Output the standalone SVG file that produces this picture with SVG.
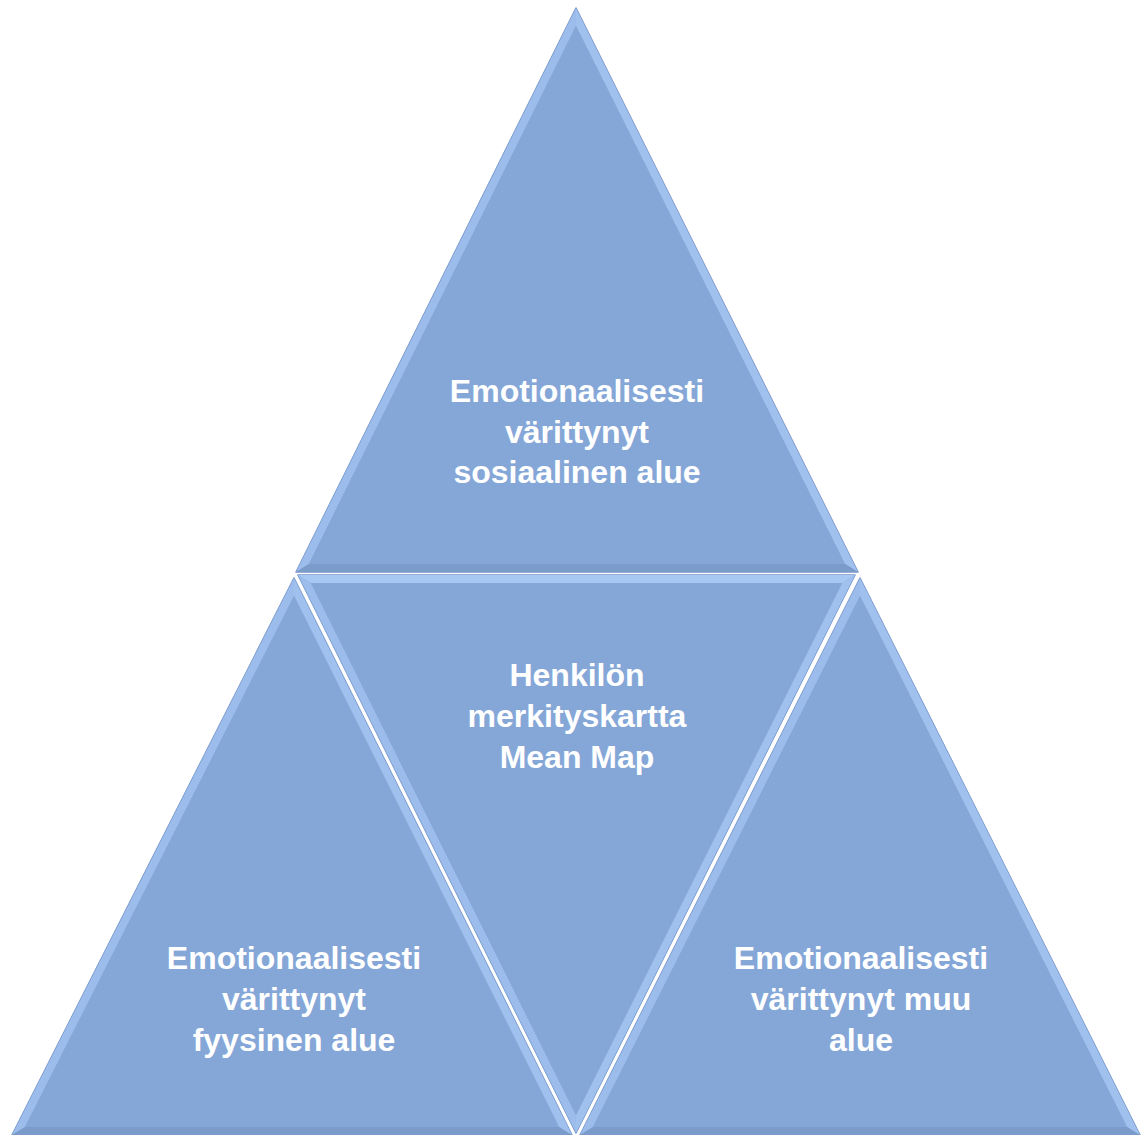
<svg xmlns="http://www.w3.org/2000/svg" width="1144" height="1135" viewBox="0 0 1144 1135">
  <style>
    .base { fill: #85A7D8; stroke: #7494C6; stroke-width: 1.5; stroke-linejoin: round; }
    .fl { fill: #9CBDEC; }
    .fr { fill: #A0C0EE; }
    .fb { fill: #7B9BCA; }
    .ft { fill: #A8C8F4; }
    .inner { fill: #85A7D8; }
    .lbl { font-family: "Liberation Sans", Arial, sans-serif; font-weight: bold; font-size: 32px; fill: #FFFFFF; text-anchor: middle; }
  </style>
  <rect width="1144" height="1135" fill="#FFFFFF"/>

  <g id="node-top">
    <polygon class="base" points="576,8 858,572 296,572"/>
    <polygon class="fl" points="576,8 296,572 308.9,564 576,26"/>
    <polygon class="fr" points="576,8 858,572 845.1,564 576,26"/>
    <polygon class="fb" points="296,572 858,572 845.1,564 308.9,564"/>
    <polygon class="inner" points="576,26 845.1,564 308.9,564"/>
    <text class="lbl" x="577" y="402">Emotionaalisesti</text>
    <text class="lbl" x="577" y="443">värittynyt</text>
    <text class="lbl" x="577" y="483">sosiaalinen alue</text>
  </g>

  <g id="node-center">
    <polygon class="base" points="298,575 855,575 576,1133"/>
    <polygon class="ft" points="298,575 855,575 842.1,583 310.9,583"/>
    <polygon class="fl" points="298,575 576,1133 576,1115 310.9,583"/>
    <polygon class="fr" points="855,575 576,1133 576,1115 842.1,583"/>
    <polygon class="inner" points="310.9,583 842.1,583 576,1115"/>
    <text class="lbl" x="577" y="686">Henkilön</text>
    <text class="lbl" x="577" y="727">merkityskartta</text>
    <text class="lbl" x="577" y="768">Mean Map</text>
  </g>

  <g id="node-left">
    <polygon class="base" points="294,578 572,1135 12,1135"/>
    <polygon class="fl" points="294,578 12,1135 25,1127 294,596"/>
    <polygon class="fr" points="294,578 572,1135 559,1127 294,596"/>
    <polygon class="fb" points="12,1135 572,1135 559,1127 25,1127"/>
    <polygon class="inner" points="294,596 559,1127 25,1127"/>
    <text class="lbl" x="294" y="969">Emotionaalisesti</text>
    <text class="lbl" x="294" y="1010">värittynyt</text>
    <text class="lbl" x="294" y="1051">fyysinen alue</text>
  </g>

  <g id="node-right">
    <polygon class="base" points="860,578 1140,1135 580,1135"/>
    <polygon class="fl" points="860,578 580,1135 593,1127 860,596"/>
    <polygon class="fr" points="860,578 1140,1135 1127,1127 860,596"/>
    <polygon class="fb" points="580,1135 1140,1135 1127,1127 593,1127"/>
    <polygon class="inner" points="860,596 1127,1127 593,1127"/>
    <text class="lbl" x="861" y="969">Emotionaalisesti</text>
    <text class="lbl" x="861" y="1010">värittynyt muu</text>
    <text class="lbl" x="861" y="1051">alue</text>
  </g>

  <g id="connectors"></g>
</svg>
